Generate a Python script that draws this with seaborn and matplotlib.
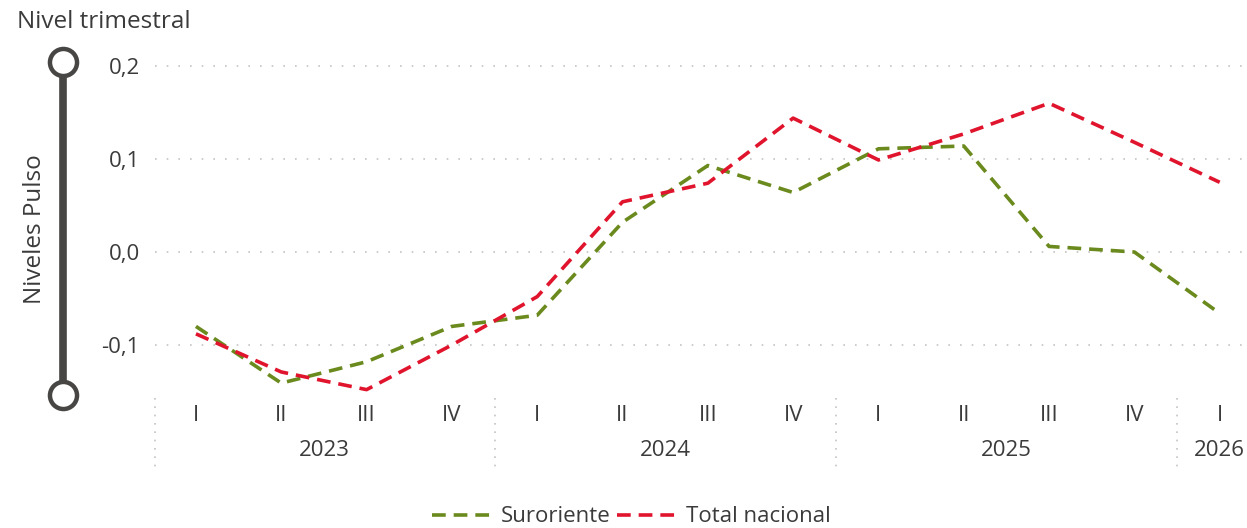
import numpy as np
import pandas as pd
import matplotlib.pyplot as plt
import seaborn as sns
from matplotlib.lines import Line2D
from matplotlib.ticker import FuncFormatter
import matplotlib.transforms as mtransforms

# ─────────────────────────────────────────
# DATA
# ─────────────────────────────────────────
years = ["2023", "2023", "2023", "2023",
         "2024", "2024", "2024", "2024",
         "2025", "2025", "2025", "2025",
         "2026"]
quarters = ["I", "II", "III", "IV",
            "I", "II", "III", "IV",
            "I", "II", "III", "IV",
            "I"]
suroriente = [-0.080, -0.141, -0.118, -0.080,
              -0.068, 0.032, 0.093, 0.064,
              0.111, 0.114, 0.006, 0.000,
              -0.066]
total_nacional = [-0.088, -0.129, -0.148, -0.100,
                  -0.048, 0.054, 0.074, 0.144,
                  0.099, 0.127, 0.160, 0.118,
                  0.075]
series_names = ["Suroriente", "Total nacional"]
colors = {"Suroriente": "#6b8a1e", "Total nacional": "#e0142c"}
y_ticks = [-0.1, 0.0, 0.1, 0.2]

n = len(quarters)
df = pd.DataFrame({
    "idx": list(range(n)) * 2,
    "valor": suroriente + total_nacional,
    "serie": [series_names[0]] * n + [series_names[1]] * n,
})

# ─────────────────────────────────────────
# PLOT
# ─────────────────────────────────────────
sns.set_style("white")
plt.rcParams["font.family"] = ["Open Sans", "DejaVu Sans"]
text_col = "#3b3b3b"
fs = 16

fig = plt.figure(figsize=(12.47, 5.28), dpi=100)
ax = fig.add_axes([155 / 1247, 1 - 398 / 528, 1 - 155 / 1247, (398 - 60) / 528])

dash = (3.8, 2.2)
sns.lineplot(data=df, x="idx", y="valor", hue="serie", style="serie",
             palette=colors, dashes={s: dash for s in series_names},
             linewidth=2.6, ax=ax, legend=True)

ax.set_xlim(-0.48, n - 1 + 0.32)
ax.set_ylim(-0.157, 0.2065)

# y axis
ax.set_yticks(y_ticks)
ax.yaxis.set_major_formatter(FuncFormatter(lambda v, p: f"{v:.1f}".replace(".", ",")))
ax.tick_params(axis="y", length=0, pad=11, labelsize=fs, labelcolor=text_col)
for yt in y_ticks:
    ax.axhline(yt, color="#c4c4c4", lw=1.2, ls=(0, (1, 6)), zorder=0)

# x axis: quarters + years
ax.set_xticks(range(n))
ax.set_xticklabels(quarters)
ax.tick_params(axis="x", length=0, pad=5, labelsize=fs, labelcolor=text_col)
ax.set_xlabel("")
ax.set_ylabel("")
for s in ax.spines.values():
    s.set_visible(False)

trans = mtransforms.blended_transform_factory(ax.transData, ax.transAxes)
year_list = list(dict.fromkeys(years))
bounds = [-0.48]
for yr in year_list:
    pos = [i for i, y in enumerate(years) if y == yr]
    ax.text(np.mean(pos), -0.155, yr, transform=trans, ha="center", va="center",
            fontsize=fs, color=text_col)
    if pos[-1] < n - 1:
        bounds.append(pos[-1] + 0.5)
for b in bounds:
    ax.add_line(Line2D([b, b], [0, -0.215], transform=trans, color="#c4c4c4",
                       lw=1.2, ls=(0, (1, 4)), clip_on=False))

# legend at the bottom of the figure
handles, labels = ax.get_legend_handles_labels()
ax.get_legend().remove()
leg = fig.legend(handles, labels, loc="center", bbox_to_anchor=(631 / 1247, 1 - 517 / 528),
                 ncol=2, frameon=False, fontsize=fs, handlelength=2.9,
                 handletextpad=0.2, columnspacing=0.3)
for t in leg.get_texts():
    t.set_color(text_col)

# slider decoration on the left
slider_col = "#484644"
fig.add_artist(Line2D([63 / 1247, 63 / 1247], [1 - 62 / 528, 1 - 395 / 528],
                      transform=fig.transFigure, color=slider_col, lw=5.5, zorder=1))
fig.add_artist(Line2D([63 / 1247, 63 / 1247], [1 - 62 / 528, 1 - 395 / 528],
                      transform=fig.transFigure, ls="none", marker="o", ms=19.5,
                      mfc="white", mec=slider_col, mew=3.2, zorder=2))
fig.text(35 / 1247, 1 - 229 / 528, "Niveles Pulso", rotation=90, ha="center",
         va="center", fontsize=17.5, color=text_col)
fig.text(17 / 1247, 1 - 22 / 528, "Nivel trimestral", ha="left", va="center",
         fontsize=17.5, color=text_col)

plt.savefig("out.png", dpi=100)
